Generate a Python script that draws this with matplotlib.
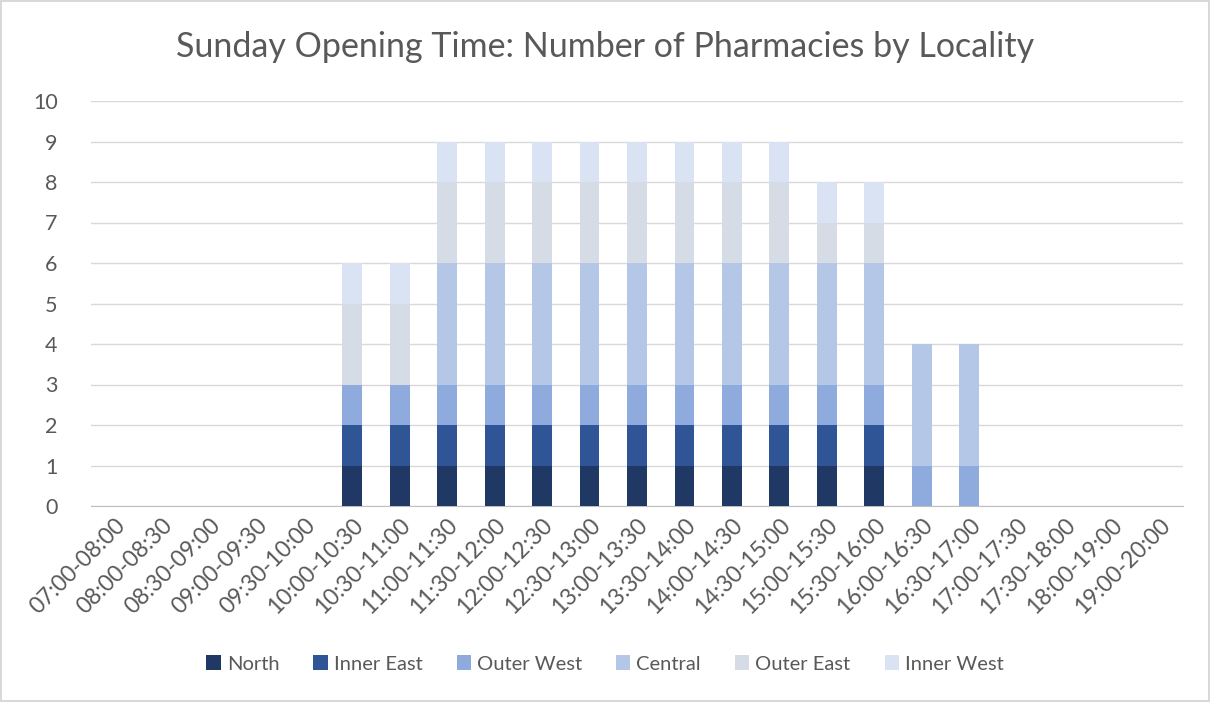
import numpy as np
import matplotlib.pyplot as plt

slots = ["07:00-08:00", "08:00-08:30", "08:30-09:00", "09:00-09:30", "09:30-10:00",
         "10:00-10:30", "10:30-11:00", "11:00-11:30", "11:30-12:00", "12:00-12:30",
         "12:30-13:00", "13:00-13:30", "13:30-14:00", "14:00-14:30", "14:30-15:00",
         "15:00-15:30", "15:30-16:00", "16:00-16:30", "16:30-17:00", "17:00-17:30",
         "17:30-18:00", "18:00-19:00", "19:00-20:00"]

north      = [0, 0, 0, 0, 0, 1, 1, 1, 1, 1, 1, 1, 1, 1, 1, 1, 1, 0, 0, 0, 0, 0, 0]
inner_east = [0, 0, 0, 0, 0, 1, 1, 1, 1, 1, 1, 1, 1, 1, 1, 1, 1, 0, 0, 0, 0, 0, 0]
outer_west = [0, 0, 0, 0, 0, 1, 1, 1, 1, 1, 1, 1, 1, 1, 1, 1, 1, 1, 1, 0, 0, 0, 0]
central    = [0, 0, 0, 0, 0, 0, 0, 3, 3, 3, 3, 3, 3, 3, 3, 3, 3, 3, 3, 0, 0, 0, 0]
outer_east = [0, 0, 0, 0, 0, 2, 2, 2, 2, 2, 2, 2, 2, 2, 2, 1, 1, 0, 0, 0, 0, 0, 0]
inner_west = [0, 0, 0, 0, 0, 1, 1, 1, 1, 1, 1, 1, 1, 1, 1, 1, 1, 0, 0, 0, 0, 0, 0]

series = [("North", north, "#1F3864"),
          ("Inner East", inner_east, "#2F5597"),
          ("Outer West", outer_west, "#8FAADC"),
          ("Central", central, "#B4C7E7"),
          ("Outer East", outer_east, "#D6DCE5"),
          ("Inner West", inner_west, "#DAE3F3")]

plt.rcParams['font.family'] = ['Lato', 'DejaVu Sans']

fig = plt.figure(figsize=(12.1, 7.02), dpi=100)
fig.patch.set_edgecolor("#D9D9D9")
fig.patch.set_linewidth(1.5)
ax = fig.add_axes([91 / 1210, 1 - 506 / 702, 1092 / 1210, 405 / 702])

x = np.arange(len(slots))
bottom = np.zeros(len(slots))
for name, vals, color in series:
    ax.bar(x, vals, 0.42, bottom=bottom, color=color, label=name, zorder=3)
    bottom += np.array(vals)

ax.set_xlim(-0.5, len(slots) - 0.5)
ax.set_ylim(0, 10)
ax.set_yticks(range(0, 11))
ax.yaxis.grid(True, color="#D9D9D9", linewidth=1, zorder=0)
for s in ["top", "right", "left"]:
    ax.spines[s].set_visible(False)
ax.spines["bottom"].set_color("#BFBFBF")
ax.tick_params(length=0, labelsize=15.5, colors="#595959")
ax.tick_params(axis="y", pad=24)
ax.tick_params(axis="x", pad=6, labelsize=16.5)
ax.set_xticks(x)
ax.set_xticklabels(slots, rotation=45, ha="right", rotation_mode="anchor")

fig.text(0.5, 1 - 47 / 702, "Sunday Opening Time: Number of Pharmacies by Locality",
         ha="center", va="center", fontsize=24.5, color="#595959")

fig.legend(loc="center", bbox_to_anchor=(0.5, 1 - 664 / 702), ncol=6, frameon=False,
           fontsize=14.5, labelcolor="#595959", handlelength=0.7, handleheight=0.7,
           handletextpad=0.3, columnspacing=1.7)

plt.savefig("out.png", dpi=100)
